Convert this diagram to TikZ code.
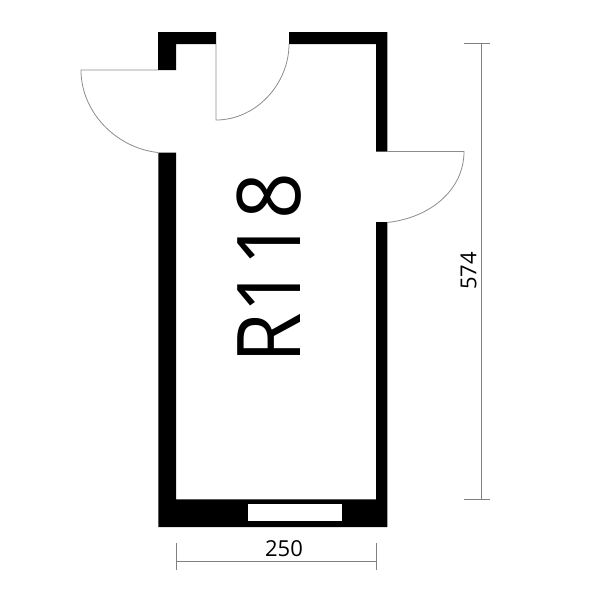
\documentclass[tikz,border=0pt]{standalone}
\usepackage{fontspec}
\setmainfont{Open Sans}
\newfontfamily\roomfont[FakeStretch=0.93]{Open Sans}
\tikzset{
  wall/.style={fill=black,draw=none},
  door/.style={draw=black!45,line width=0.8pt},
  dim/.style={draw=black!50,line width=1pt},
  label/.style={inner sep=0pt,text=black}
}
\begin{document}
\begin{tikzpicture}[x=1pt,y=-1pt]
\useasboundingbox (0,0) rectangle (600,600);
% walls
\fill[wall] (216,32) -- (158,32) -- (158,70) -- (176,70) -- (176,44) -- (216,44) -- cycle;
\fill[wall] (289,32) -- (387.3,32) -- (387.3,151.5) -- (376,151.5) -- (376,44) -- (289,44) -- cycle;
\fill[wall] (387.3,222) -- (387.3,527) -- (158.3,527) -- (158.3,152.5) -- (176,152.5) -- (176,499.3) -- (376,499.3) -- (376,222) -- cycle;
\fill[white] (248,504) rectangle (342.3,521.3);
% doors
\draw[door] (158,70) -- (81,70) .. controls (81,112) and (116,148) .. (158,152.5);
\draw[door] (216,44) -- (216,120) .. controls (256,120) and (289,84) .. (289,44);
\draw[door] (387,151.5) -- (464,151.5) .. controls (464,190) and (430,218) .. (387,222.5);
% dimensions
\coordinate (hl) at (176,561);
\coordinate (hr) at (376,561);
\coordinate (vt) at (481.7,43.5);
\coordinate (vb) at (481.7,499);
\draw[dim] (hl) -- (hr);
\draw[dim] (176,543) -- (176,570);
\draw[dim] (376,543) -- (376,570);
\draw[dim] (vt) -- (vb);
\draw[dim] (464,43.5) -- (490,43.5);
\draw[dim] (464,499) -- (490,499);
% texts
\node[label,font=\roomfont\fontsize{88}{88}\selectfont,rotate=90] (room) at (269.5,268.5) {R118};
\node[label,font=\fontsize{22}{22}\selectfont] (w) at (284,549) {250};
\node[label,font=\fontsize{22}{22}\selectfont,rotate=90] (h) at (468.5,271) {574};
\end{tikzpicture}
\end{document}
